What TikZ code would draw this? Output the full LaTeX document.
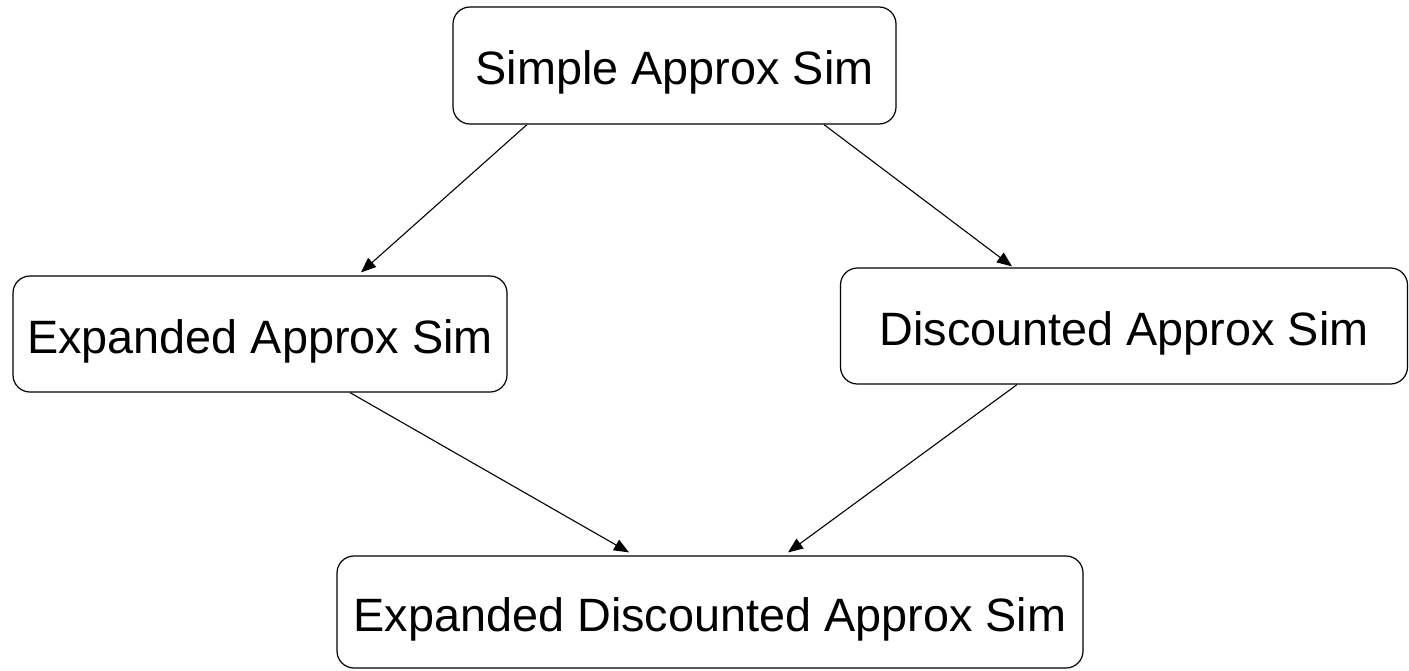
\documentclass[tikz,border=0pt]{standalone}
\usepackage{fontspec}
\setmainfont{Liberation Sans}
\usetikzlibrary{arrows.meta}

\tikzset{
  simbox/.style={draw=black, line width=1.2pt, rounded corners=17pt,
    inner sep=0pt, align=center, text height=38pt, text depth=0pt,
    font=\fontsize{46.8}{56}\selectfont},
  flow/.style={draw=black, line width=1.1pt,
    -{Triangle[length=15pt,width=12pt]}}
}

\begin{document}
\begin{tikzpicture}[x=1pt, y=-1pt]
  \useasboundingbox (0,0) rectangle (1409,670);

  % simulation variants
  \node[simbox, minimum width=443pt, minimum height=117pt] (simple)
    at (674.5,65.5) {Simple Approx Sim};
  \node[simbox, minimum width=494pt, minimum height=116pt] (expanded)
    at (260,334) {Expanded Approx Sim};
  \node[simbox, minimum width=567pt, minimum height=116pt] (discounted)
    at (1124,326) {Discounted Approx Sim};
  \node[simbox, minimum width=746pt, minimum height=112pt] (combined)
    at (710,612) {Expanded Discounted Approx Sim};

  % refinement arrows
  \draw[flow] ([xshift=-147.5pt]simple.south) -- ([xshift=101pt,yshift=3pt]expanded.north);
  \draw[flow] ([xshift=149.5pt]simple.south) -- ([xshift=-112pt,yshift=1pt]discounted.north);
  \draw[flow] ([xshift=90pt]expanded.south) -- ([xshift=-81pt,yshift=3pt]combined.north);
  \draw[flow] ([xshift=-107pt]discounted.south) -- ([xshift=78pt,yshift=3pt]combined.north);
\end{tikzpicture}
\end{document}
